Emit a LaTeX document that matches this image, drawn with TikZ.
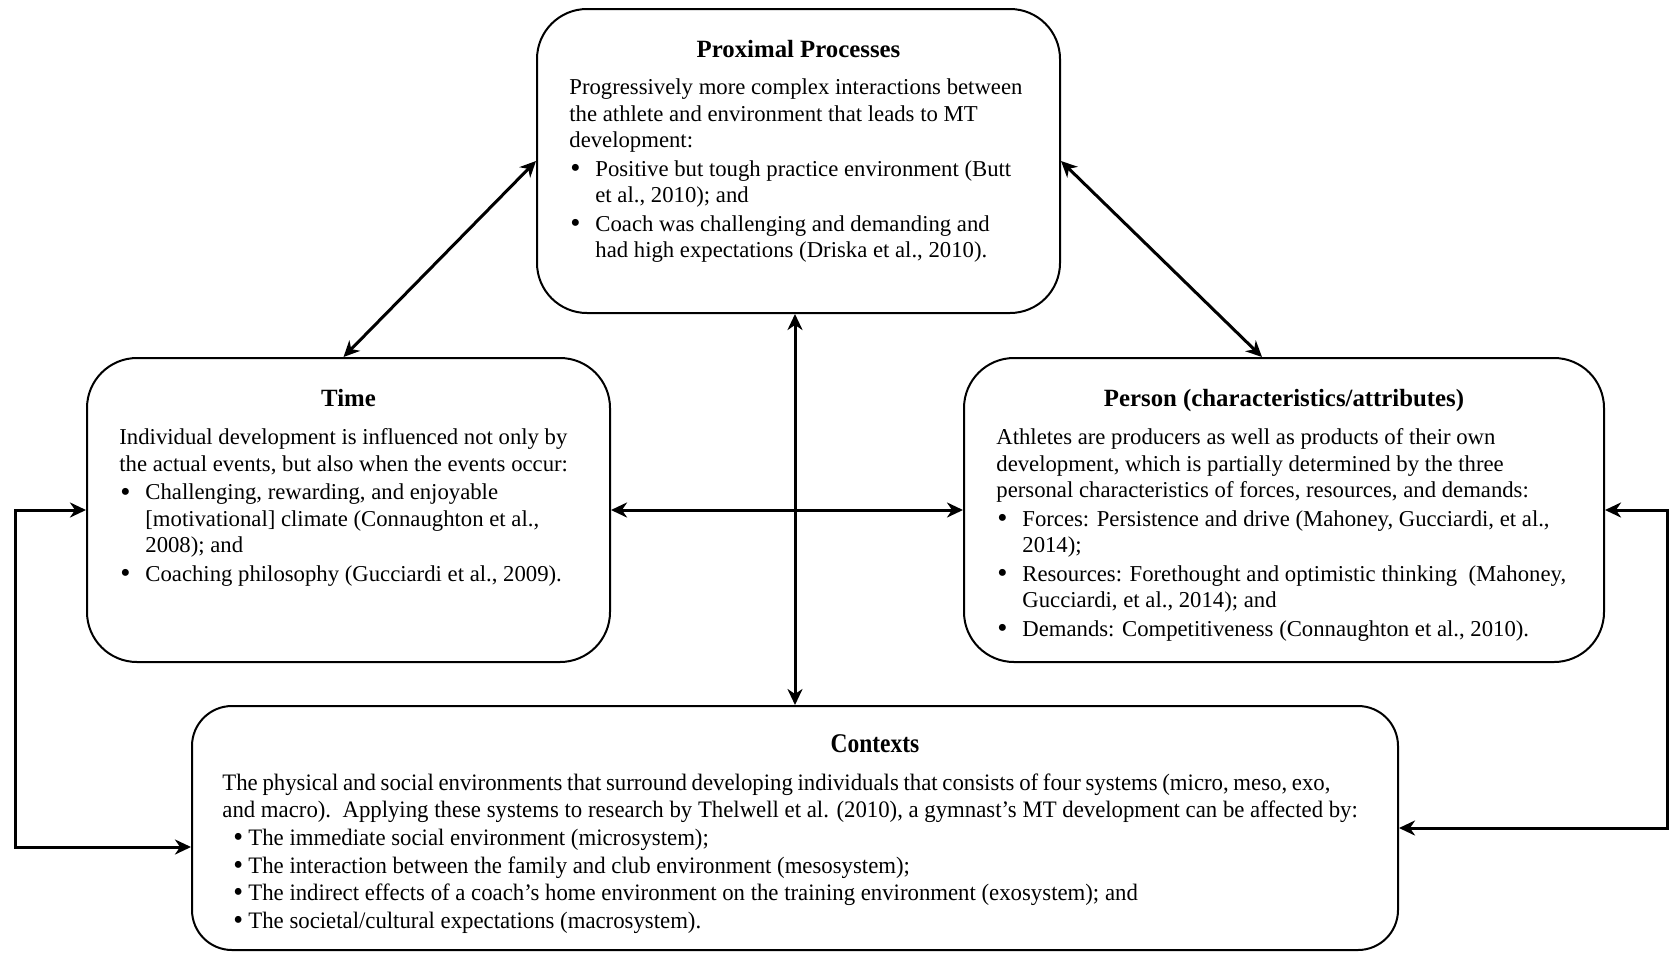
\documentclass[tikz,border=0pt]{standalone}
\usepackage{fontspec}
\setmainfont{Liberation Serif}
\newfontfamily\ctxfont[FakeStretch=0.965]{Liberation Serif}
\newfontfamily\ctxheadfont[FakeStretch=0.87]{Liberation Serif}
\usetikzlibrary{arrows.meta}

\tikzset{
  panel/.style={draw, line width=1pt, rounded corners=25pt, minimum height=152pt, inner sep=0pt},
  heading/.style={font=\fontsize{12.4}{14}\selectfont\bfseries, anchor=base, inner sep=0pt},
  bodytext/.style={font=\fontsize{11.36}{13.25}\selectfont, align=left, anchor=north west, inner sep=0pt},
  ctxtext/.style={font=\ctxfont\fontsize{11.8}{13.8}\selectfont, align=left, anchor=north west, inner sep=0pt},
  tip/.tip={Stealth[length=8pt,width=7.5pt,inset=2.5pt]},
  link/.style={line width=1.5pt, tip-tip},
}
\newcommand{\bigdot}{\raisebox{-0.6pt}{\fontsize{14.5}{0}\selectfont\textbullet}}
\newcommand{\bul}{\makebox[13pt][l]{\hspace{0.5pt}\bigdot}}
\newcommand{\ind}{\hspace*{13pt}}
\newcommand{\cbul}{\makebox[13pt][l]{\hspace{5.5pt}\bigdot}\hspace{0pt}}

\begin{document}
\begin{tikzpicture}[x=0.5pt, y=-0.5pt]
\useasboundingbox (0,0) rectangle (1670,954);

% the four boxes
\node[panel, minimum width=261.5pt] (prox) at (798.5,161) {};
\node[panel, minimum width=261.5pt] (time) at (348.5,510) {};
\node[panel, minimum width=320pt] (person) at (1284,510) {};
\node[panel, minimum width=603pt, minimum height=122pt, rounded corners=20pt] (ctx) at (795,828) {};

% proximal processes
\node[heading] (proxhead) at (798.5,57) {Proximal Processes};
\node[bodytext] (proxbody) at (569,76) {\strut Progressively more complex interactions between\\
the athlete and environment that leads to MT\\
development:\\[1pt]\bul Positive but tough practice environment (Butt\\
\ind et al., 2010); and\\[1pt]\bul Coach was challenging and demanding and\\
\ind had high expectations (Driska et al., 2010).};

% time
\node[heading] (timehead) at (348.5,406) {Time};
\node[bodytext] (timebody) at (119,426) {\strut Individual development is influenced not only by\\
the actual events, but also when the events occur:\\[1pt]\bul Challenging, rewarding, and enjoyable\\
\ind [motivational] climate (Connaughton et al.,\\
\ind 2008); and\\[1pt]\bul Coaching philosophy (Gucciardi et al., 2009).};

% person
\node[heading] (personhead) at (1284,406) {Person (characteristics/attributes)};
\node[bodytext] (personbody) at (996,426) {\strut Athletes are producers as well as products of their own\\
development, which is partially determined by the three\\
personal characteristics of forces, resources, and demands:\\[1pt]\bul Forces: Persistence and drive (Mahoney, Gucciardi, et al.,\\
\ind 2014);\\[1pt]\bul Resources: Forethought and optimistic thinking\ \ (Mahoney,\\
\ind Gucciardi, et al., 2014); and\\[1pt]\bul Demands: Competitiveness (Connaughton et al., 2010).};

% contexts
\node[heading, font=\ctxheadfont\fontsize{13.5}{15}\selectfont\bfseries] (ctxhead) at (875,752) {Contexts};
\node[ctxtext] (ctxbody) at (222,770.5) {\strut{\spaceskip=2.35pt The physical and social environments that surround developing individuals that consists of four systems (micro, meso, exo,}\\
and macro).\ \ Applying these systems to research by Thelwell et al. (2010), a gymnast’s MT development can be affected by:\\
\cbul The immediate social environment (microsystem);\\
\cbul The interaction between the family and club environment (mesosystem);\\
\cbul The indirect effects of a coach’s home environment on the training environment (exosystem); and\\
\cbul The societal/cultural expectations (macrosystem).};

% connectors
\draw[link] (prox.west) -- ([xshift=-2.5pt]time.north);
\draw[link] (prox.east) -- ([xshift=-11pt]person.north);
\draw[link] (ctx.north |- prox.south) -- (ctx.north);
\draw[link] (time.east) -- (person.west);
\draw[link] (time.west) -- ++(-71,0) |- ([yshift=-9.5pt]ctx.west);
\draw[link] (person.east) -- ++(62,0) |- (ctx.east);

\end{tikzpicture}
\end{document}
